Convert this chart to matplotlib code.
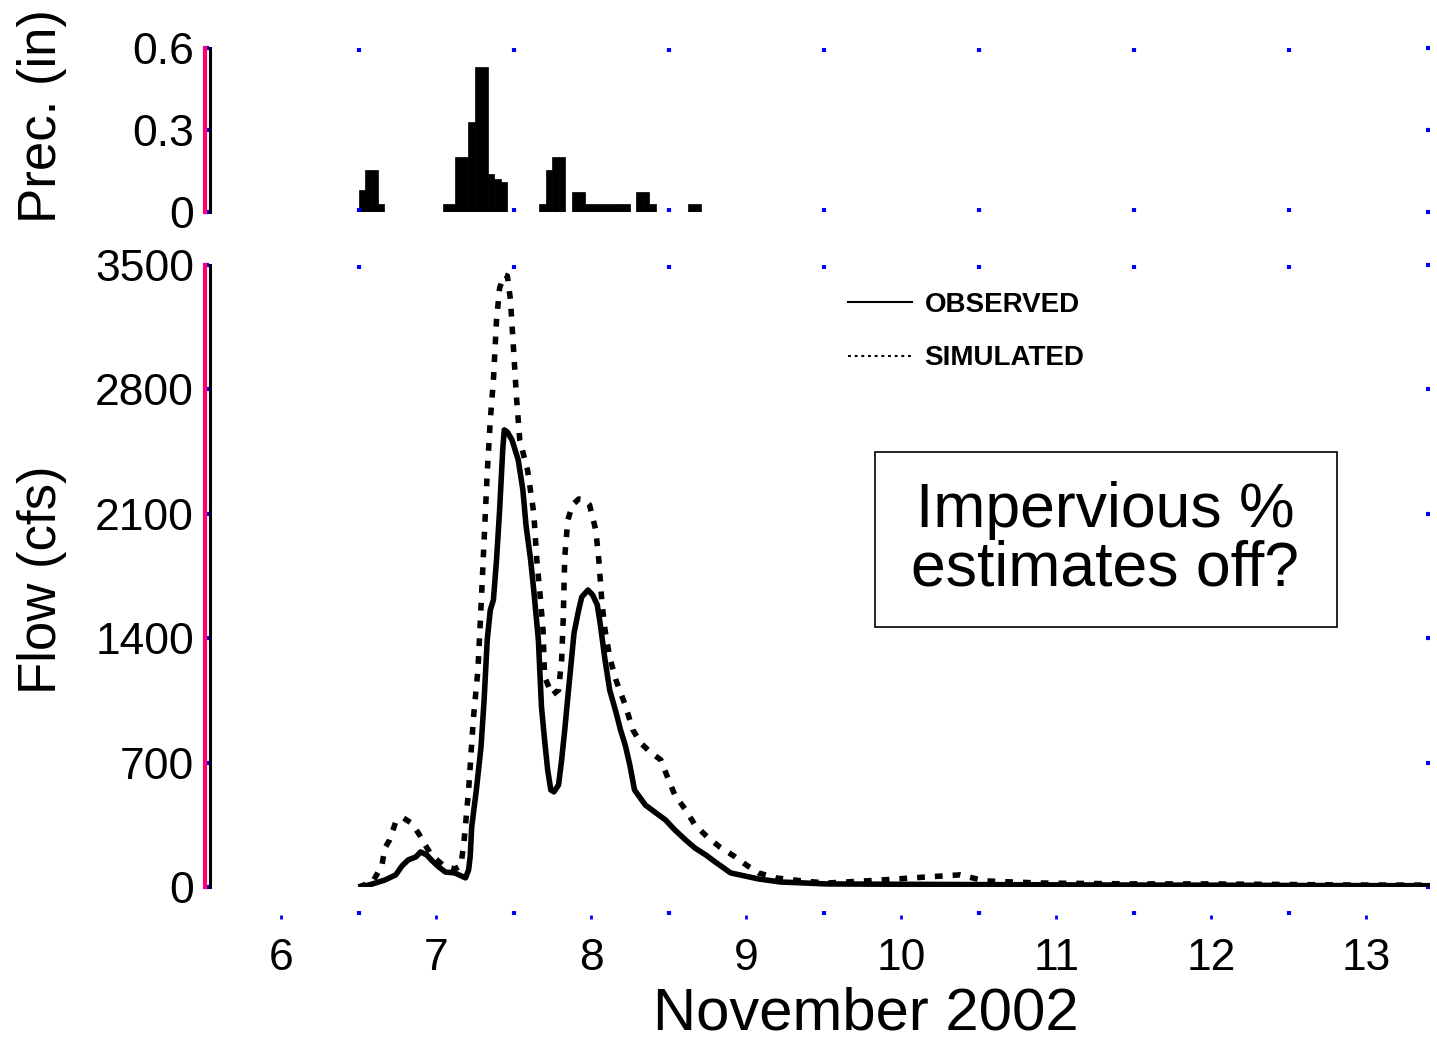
import numpy as np
import matplotlib
matplotlib.use("Agg")
import matplotlib.pyplot as plt
from matplotlib.patches import Rectangle

plt.rcParams['font.family'] = ['Liberation Sans', 'DejaVu Sans']

# hourly precipitation (in) starting Nov 6, 12:00
prec_start = 6.5
prec_vals = [0.08, 0.155, 0.155, 0.03, 0, 0, 0, 0, 0, 0, 0, 0, 0,
             0.03, 0.03, 0.20, 0.20, 0.33, 0.53, 0.53, 0.14, 0.12, 0.11,
             0, 0, 0, 0, 0, 0.03, 0.155, 0.20, 0.20, 0, 0.075, 0.075,
             0.03, 0.03, 0.03, 0.03, 0.03, 0.03, 0.03, 0, 0.075, 0.075, 0.03,
             0, 0, 0, 0, 0, 0.03, 0.03]

# observed flow (cfs), day of November
obs_day = [6.52, 6.59, 6.67, 6.74, 6.78, 6.82, 6.87, 6.90, 6.94, 6.97, 7.01, 7.06,
           7.12, 7.19, 7.21, 7.22, 7.23, 7.26, 7.29, 7.31, 7.33, 7.35, 7.37, 7.39,
           7.41, 7.43, 7.44, 7.46, 7.49, 7.53, 7.56, 7.58, 7.61, 7.63, 7.66, 7.68,
           7.70, 7.72, 7.74, 7.76, 7.79, 7.81, 7.83, 7.85, 7.87, 7.89, 7.92, 7.94,
           7.98, 8.01, 8.04, 8.06, 8.09, 8.12, 8.16, 8.19, 8.22, 8.25, 8.28, 8.35,
           8.41, 8.48, 8.54, 8.61, 8.67, 8.74, 8.80, 8.90, 8.99, 9.08, 9.22, 9.52,
           10.0, 10.6, 11.3, 12.0, 12.6, 13.4]
obs_cfs = [0, 17, 39, 68, 118, 152, 169, 197, 180, 152, 118, 84,
           79, 51, 96, 169, 338, 546, 788, 1052, 1390, 1559, 1615, 1840,
           2121, 2459, 2572, 2560, 2515, 2403, 2234, 2037, 1840, 1671, 1390, 1013,
           827, 658, 546, 535, 574, 715, 883, 1069, 1249, 1429, 1559, 1632,
           1671, 1643, 1587, 1474, 1277, 1108, 985, 883, 799, 686, 546, 461,
           422, 377, 321, 264, 219, 180, 141, 79, 62, 45, 28, 17,
           15, 13, 11, 10, 8, 7]

# simulated flow (cfs)
sim_day = [6.50, 6.59, 6.65, 6.67, 6.70, 6.74, 6.79, 6.84, 6.89, 6.93, 6.97, 7.05,
           7.12, 7.16, 7.18, 7.21, 7.24, 7.27, 7.29, 7.31, 7.33, 7.35, 7.37, 7.39,
           7.41, 7.44, 7.46, 7.48, 7.50, 7.52, 7.54, 7.59, 7.63, 7.65, 7.67, 7.69,
           7.70, 7.75, 7.79, 7.81, 7.82, 7.83, 7.85, 7.88, 7.92, 7.96, 7.99, 8.03,
           8.05, 8.07, 8.09, 8.12, 8.16, 8.22, 8.27, 8.32, 8.38, 8.45, 8.50, 8.54,
           8.61, 8.67, 8.75, 8.83, 8.93, 9.01, 9.08, 9.19, 9.36, 9.52, 9.87, 10.16,
           10.38, 10.54, 10.90, 11.52, 11.99, 12.90, 13.4]
sim_cfs = [0, 28, 118, 219, 264, 366, 388, 360, 298, 236, 180, 118,
           101, 118, 253, 546, 940, 1221, 1576, 1953, 2330, 2628, 2853, 3190,
           3371, 3444, 3438, 3303, 3022, 2740, 2515, 2346, 2105, 1840, 1654, 1446,
           1182, 1080, 1108, 1277, 1502, 1857, 2065, 2150, 2183, 2178, 2150, 2009,
           1840, 1598, 1446, 1294, 1165, 1024, 883, 810, 760, 715, 602, 518,
           433, 349, 281, 225, 169, 118, 79, 51, 34, 22, 39, 56,
           68, 34, 22, 17, 17, 11, 10]

day_ticks = [6, 7, 8, 9, 10, 11, 12, 13]
prec_ticks = [0, 0.3, 0.6]
flow_ticks = [0, 700, 1400, 2100, 2800, 3500]
xlim = (5.51, 13.41)

pink = '#ff0070'
blue = '#0000ff'

fig = plt.figure(figsize=(14.37, 10.42), dpi=100)
ax1 = fig.add_axes([0.1427, 0.7965, 0.8523, 0.1574])
ax2 = fig.add_axes([0.1427, 0.1488, 0.8523, 0.5969])


def style_axis(ax):
    ax.set_xlim(*xlim)
    for s in ['top', 'right']:
        ax.spines[s].set_visible(False)
    ax.spines['bottom'].set_color('none')
    ax.spines['left'].set_color(pink)
    ax.spines['left'].set_linewidth(3)
    # black edge next to the pink spine
    ax.plot([0.004, 0.004], [0, 1], transform=ax.transAxes, color='k',
            lw=2.2, clip_on=False)
    # half-day marker dots along top and bottom
    ax.set_xticks(np.arange(6.5, 13, 1), minor=True)
    ax.tick_params(axis='x', which='minor', top=True, bottom=True,
                   direction='in', length=3, width=3, color=blue)
    ax.tick_params(axis='y', which='major', labelsize=32, pad=8,
                   left=True, right=True, direction='in', length=3,
                   width=3, color=blue)
    for t in ax.xaxis.get_minor_ticks():
        if t.get_loc() in (6.5, 12.5):
            t.tick1line.set_color(pink)
            t.tick2line.set_color(pink)


# precipitation
style_axis(ax1)
prec_x = prec_start + np.arange(len(prec_vals)) / 24.0
ax1.bar(prec_x, prec_vals, width=1 / 24.0, align='edge', color='k',
        edgecolor='k', linewidth=0.5)
ax1.set_ylim(0, 0.6)
ax1.set_yticks(prec_ticks)
ax1.set_yticklabels(['0', '0.3', '0.6'])
ax1.set_xticks(day_ticks)
ax1.tick_params(axis='x', which='major', bottom=False, labelbottom=False)
ax1.set_ylabel('Prec. (in)', fontsize=38)
ax1.yaxis.set_label_coords(-0.113, 0.585)

# flow
style_axis(ax2)
ax2.plot(obs_day, obs_cfs, color='k', lw=4, ls='-', label='OBSERVED')
ax2.plot(sim_day, sim_cfs, color='k', lw=4, ls=(0, (1.4, 1.8)),
         label='SIMULATED')
ax2.set_ylim(0, 3500)
ax2.set_yticks(flow_ticks)
ax2.set_xticks(day_ticks)
ax2.spines['bottom'].set_position(('outward', 20))
ax2.tick_params(axis='x', which='major', labelsize=32, direction='out',
                length=3, width=2, color=blue, pad=14)
ax2.set_ylabel('Flow (cfs)', fontsize=38)
ax2.yaxis.set_label_coords(-0.113, 0.494)

fig.text(866 / 1437, 1 - 1030 / 1042, 'November 2002', fontsize=43,
         ha='center', va='baseline')

leg = ax2.legend(loc='upper left', bbox_to_anchor=(0.516, 0.975), frameon=False,
                 handlelength=2.3, handletextpad=0.45, labelspacing=1.0,
                 borderaxespad=0, prop={'size': 20, 'weight': 'bold'})
for h in leg.get_lines():
    h.set_linewidth(1.5)

# annotation box
ax2.add_patch(Rectangle((0.547, 0.418), 0.377, 0.281, transform=ax2.transAxes,
                        facecolor='white', edgecolor='k', linewidth=1.2,
                        zorder=3))
ax2.text(0.735, 0.558, 'Impervious %\nestimates off?', transform=ax2.transAxes,
         fontsize=45, ha='center', va='center', linespacing=1.0, zorder=4)

fig.savefig('out.png', dpi=100)
